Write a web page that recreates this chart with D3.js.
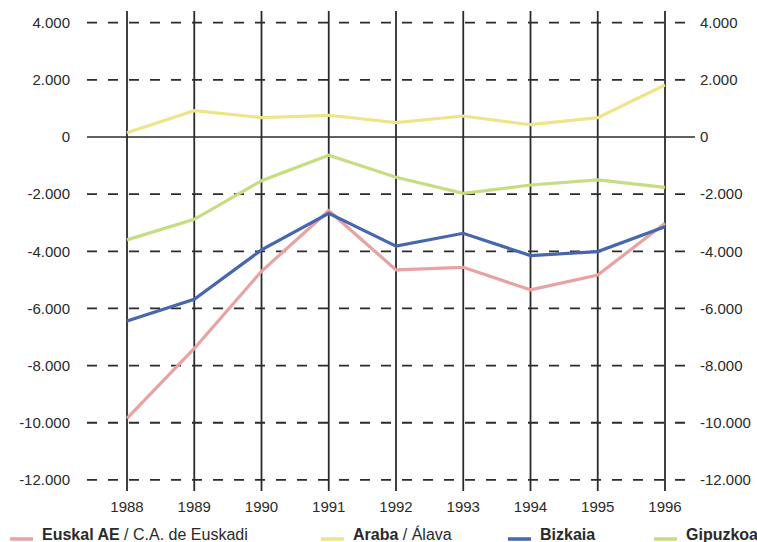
<!DOCTYPE html>
<html>
<head>
<meta charset="UTF-8">
<style>
  body { margin: 0; background: #fff; }
  svg { display: block; font-family: "Liberation Sans", Arial, Helvetica, sans-serif; }
</style>
</head>
<body>
<svg></svg>
<script src="https://d3js.org/d3.v7.min.js"></script>
<script>

// data
let years = ["1988", "1989", "1990", "1991", "1992", "1993", "1994", "1995", "1996"];
let euskadi  = [-9850, -7400, -4700, -2580, -4650, -4560, -5350, -4830, -3020];
let araba    = [150, 920, 680, 760, 500, 735, 430, 680, 1820];
let bizkaia  = [-6440, -5680, -3950, -2670, -3820, -3370, -4150, -4010, -3140];
let gipuzkoa = [-3600, -2880, -1530, -640, -1410, -1970, -1680, -1500, -1760];
let yTicks = [4000, 2000, 0, -2000, -4000, -6000, -8000, -10000, -12000];

let series = [
  {bold: "Euskal AE", rest: " / C.A. de Euskadi", values: euskadi, color: "#e9a2a2", lx: 10},
  {bold: "Araba", rest: " / Álava", values: araba, color: "#eee58a", lx: 321},
  {bold: "Bizkaia", rest: "", values: bizkaia, color: "#4766ae", lx: 508},
  {bold: "Gipuzkoa", rest: "", values: gipuzkoa, color: "#c6dd82", lx: 654}
];

let width = 757, height = 542;
let svg = d3.select("svg").attr("width", width).attr("height", height);

let x = d3.scalePoint().domain(years).range([127, 665]);
let y = d3.scaleLinear().domain([-12000, 4000]).range([479.9, 22.7]);

// number format with dots as thousands separator
let fmt = d3.formatLocale({decimal: ",", thousands: ".", grouping: [3], currency: ["", ""], minus: "-"}).format(",d");

// horizontal grid
svg.append("g").selectAll("line")
  .data(yTicks)
  .enter().append("line")
  .attr("x1", 87).attr("x2", 695)
  .attr("y1", d => y(d)).attr("y2", d => y(d))
  .attr("stroke", "#2b2b2b")
  .attr("stroke-width", d => d == 0 ? 1.6 : 1.8)
  .attr("stroke-dasharray", d => d == 0 ? null : "10,11");

// vertical grid
svg.append("g").selectAll("line")
  .data(years)
  .enter().append("line")
  .attr("x1", d => x(d)).attr("x2", d => x(d))
  .attr("y1", 11).attr("y2", 491)
  .attr("stroke", "#2b2b2b")
  .attr("stroke-width", 1.8);

// y labels left and right
svg.append("g").selectAll("text")
  .data(yTicks)
  .enter().append("text")
  .attr("x", 70).attr("y", d => y(d) + 5.3)
  .attr("text-anchor", "end")
  .attr("font-size", 15).attr("fill", "#2a2a2a")
  .text(d => fmt(d));

svg.append("g").selectAll("text")
  .data(yTicks)
  .enter().append("text")
  .attr("x", 700).attr("y", d => y(d) + 5.3)
  .attr("font-size", 15).attr("fill", "#2a2a2a")
  .text(d => fmt(d));

// x labels
svg.append("g").selectAll("text")
  .data(years)
  .enter().append("text")
  .attr("x", d => x(d)).attr("y", 511.5)
  .attr("text-anchor", "middle")
  .attr("font-size", 15).attr("fill", "#2a2a2a")
  .text(d => d);

// lines
let line = d3.line().x((d, i) => x(years[i])).y(d => y(d));

svg.append("g").selectAll("path")
  .data(series)
  .enter().append("path")
  .attr("d", d => line(d.values))
  .attr("fill", "none")
  .attr("stroke", d => d.color)
  .attr("stroke-width", 3.2)
  .attr("stroke-linejoin", "miter");

// legend
let leg = svg.append("g").selectAll("g")
  .data(series)
  .enter().append("g")
  .attr("transform", d => "translate(" + d.lx + ",539)");

leg.append("line")
  .attr("x1", 0).attr("x2", 23).attr("y1", 0).attr("y2", 0)
  .attr("stroke", d => d.color).attr("stroke-width", 3.5);

let lt = leg.append("text")
  .attr("x", 32).attr("y", 1)
  .attr("font-size", 16).attr("fill", "#2a2a2a");
lt.append("tspan").attr("font-weight", "bold").text(d => d.bold);
lt.append("tspan").text(d => d.rest);

</script>
</body>
</html>
